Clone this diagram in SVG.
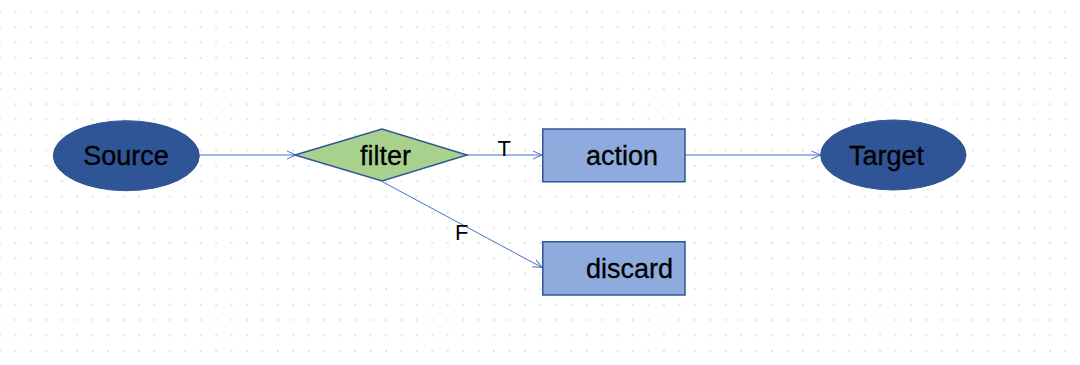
<svg xmlns="http://www.w3.org/2000/svg" width="1080" height="365" viewBox="0 0 1080 365">
  <defs>
    <pattern id="grid" patternUnits="userSpaceOnUse" x="-7.72" y="3.99" width="15.44" height="15.42">
      <circle cx="7.72" cy="7.71" r="1.1" fill="#e2e2e2"/>
    </pattern>
    <marker id="arrow" viewBox="0 0 10 10" refX="10" refY="5" markerWidth="10" markerHeight="10" markerUnits="userSpaceOnUse" orient="auto">
      <path d="M1,1 L10,5 L1,9" fill="none" stroke="#4472c4" stroke-width="1"/>
    </marker>
    <style>
      .lbl { font-family: "Liberation Sans", Arial, sans-serif; font-size: 27px; fill: #000; stroke: #000; stroke-width: 0.3; }
      .edge-lbl { font-family: "Liberation Sans", Arial, sans-serif; font-size: 22px; fill: #000; }
      .ell { fill: #2f5597; stroke: #2f5597; stroke-width: 1; }
      .box { fill: #8faadc; stroke: #2f5597; stroke-width: 1.5; }
      .dia { fill: #a9d18e; stroke: #2f5597; stroke-width: 1.5; }
      .conn { stroke: #4472c4; stroke-width: 1; fill: none; marker-end: url(#arrow); }
    </style>
  </defs>
  <rect x="0" y="0" width="1080" height="365" fill="#ffffff"/>
  <rect x="0" y="0" width="1072" height="357" fill="url(#grid)"/>

  <g id="connectors">
    <line class="conn" x1="199.5" y1="155" x2="296" y2="155"/>
    <line class="conn" x1="467" y1="155" x2="542" y2="155"/>
    <line class="conn" x1="382" y1="181.5" x2="542" y2="267.5"/>
    <line class="conn" x1="685" y1="155" x2="820.5" y2="155"/>
    <text class="edge-lbl" x="497.5" y="155.5">T</text>
    <text class="edge-lbl" x="455" y="239.5">F</text>
  </g>

  <g id="source">
    <ellipse class="ell" cx="126.3" cy="155.7" rx="73" ry="35"/>
    <text class="lbl" x="126" y="164.5" text-anchor="middle">Source</text>
  </g>

  <g id="filter">
    <polygon class="dia" points="295,155 382,129 467,155 382,181"/>
    <text class="lbl" x="385.5" y="164.5" text-anchor="middle">filter</text>
  </g>

  <g id="action">
    <rect class="box" x="542.75" y="129" width="142.25" height="52.75"/>
    <text class="lbl" x="586" y="164.5">action</text>
  </g>

  <g id="discard">
    <rect class="box" x="542.75" y="241.75" width="142.25" height="53.25"/>
    <text class="lbl" x="586" y="277.5">discard</text>
  </g>

  <g id="target">
    <ellipse class="ell" cx="893.3" cy="155" rx="72.7" ry="35"/>
    <text class="lbl" x="886.5" y="164.5" text-anchor="middle">Target</text>
  </g>
</svg>
